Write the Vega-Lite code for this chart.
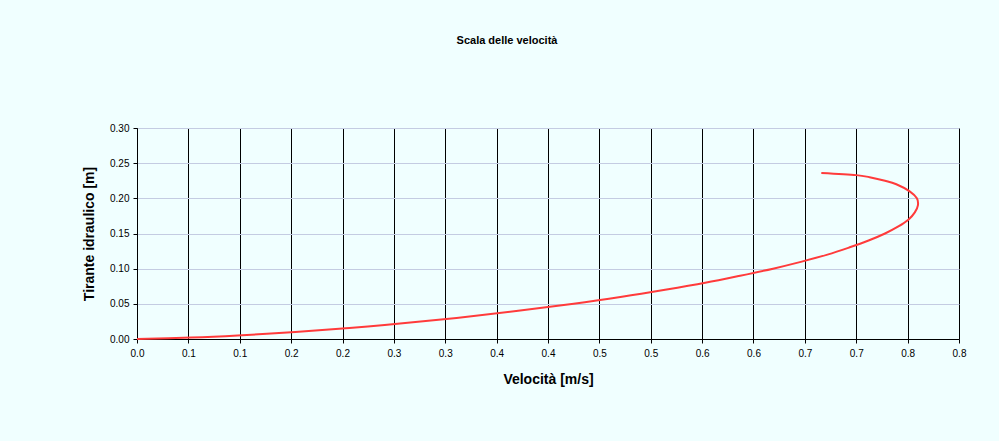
{
  "$schema": "https://vega.github.io/schema/vega-lite/v6.json",
  "width": 822,
  "height": 211,
  "autosize": {"type": "none"},
  "padding": {"left": 137, "top": 128, "right": 40, "bottom": 102},
  "background": "#F0FFFF",
  "title": {
    "text": "Scala delle velocità",
    "font": "Liberation Sans",
    "fontSize": 11,
    "fontWeight": "bold",
    "color": "#000000",
    "anchor": "middle",
    "offset": 77,
    "dx": -41
  },
  "config": {
    "view": {"stroke": "#3A3A3A", "strokeWidth": 1, "fill": "#F0FFFF"},
    "axis": {
      "labelFont": "Liberation Sans",
      "labelFontSize": 10,
      "labelColor": "#000000",
      "titleFont": "Liberation Sans",
      "titleFontSize": 14,
      "titleFontWeight": "bold",
      "titleColor": "#000000",
      "domainColor": "#000000",
      "tickColor": "#000000",
      "tickSize": 4
    }
  },
  "data": {
    "values": [
      {"v": 0.0, "h": 0.0},
      {"v": 0.053, "h": 0.002},
      {"v": 0.098, "h": 0.005},
      {"v": 0.154, "h": 0.010},
      {"v": 0.200, "h": 0.015},
      {"v": 0.241, "h": 0.020},
      {"v": 0.311, "h": 0.030},
      {"v": 0.371, "h": 0.040},
      {"v": 0.425, "h": 0.050},
      {"v": 0.472, "h": 0.060},
      {"v": 0.514, "h": 0.070},
      {"v": 0.553, "h": 0.080},
      {"v": 0.587, "h": 0.090},
      {"v": 0.619, "h": 0.100},
      {"v": 0.647, "h": 0.110},
      {"v": 0.672, "h": 0.120},
      {"v": 0.693, "h": 0.130},
      {"v": 0.712, "h": 0.140},
      {"v": 0.728, "h": 0.150},
      {"v": 0.741, "h": 0.160},
      {"v": 0.751, "h": 0.170},
      {"v": 0.757, "h": 0.180},
      {"v": 0.760, "h": 0.190},
      {"v": 0.759, "h": 0.200},
      {"v": 0.752, "h": 0.210},
      {"v": 0.739, "h": 0.220},
      {"v": 0.728, "h": 0.225},
      {"v": 0.713, "h": 0.230},
      {"v": 0.700, "h": 0.233},
      {"v": 0.666, "h": 0.236}
    ]
  },
  "mark": {"type": "line", "color": "#FF3B3B", "strokeWidth": 2, "interpolate": "cardinal"},
  "encoding": {
    "x": {
      "field": "v",
      "type": "quantitative",
      "scale": {"domain": [0, 0.8], "nice": false, "zero": true},
      "axis": {
        "title": "Velocità [m/s]",
        "values": [0, 0.05, 0.1, 0.15, 0.2, 0.25, 0.3, 0.35, 0.4, 0.45, 0.5, 0.55, 0.6, 0.65, 0.7, 0.75, 0.8],
        "labelExpr": "format(round(datum.value * 10 + 0.000001) / 10, '.1f')",
        "grid": true,
        "gridColor": "#000000",
        "gridWidth": 1,
        "labelPadding": 5,
        "titlePadding": 14,
        "labelFlush": false
      }
    },
    "y": {
      "field": "h",
      "type": "quantitative",
      "scale": {"domain": [0, 0.3], "nice": false},
      "axis": {
        "title": "Tirante idraulico [m]",
        "values": [0, 0.05, 0.1, 0.15, 0.2, 0.25, 0.3],
        "format": ".2f",
        "grid": true,
        "gridColor": "#C4CCE2",
        "gridWidth": 1,
        "labelPadding": 4,
        "titlePadding": 13,
        "labelFlush": false
      }
    },
    "order": {"field": "h", "type": "quantitative"}
  }
}
